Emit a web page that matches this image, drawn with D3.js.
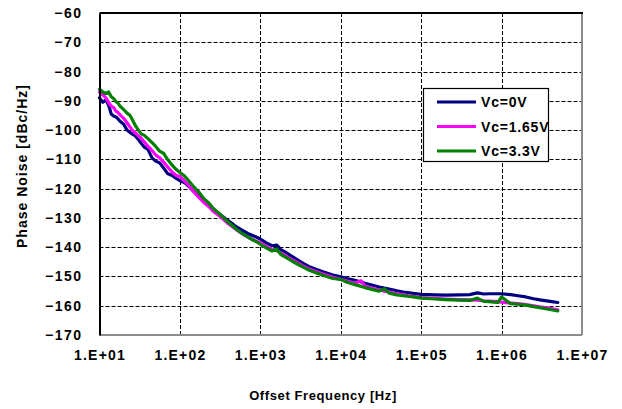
<!DOCTYPE html>
<html>
<head>
<meta charset="utf-8">
<script src="https://cdn.jsdelivr.net/npm/d3@7"></script>
<style>
  html, body { margin: 0; padding: 0; background: #fff; }
  svg text { font-family: "Liberation Sans", Arial, sans-serif; font-weight: bold; fill: #000; }
</style>
</head>
<body>
<svg id="chart" width="622" height="409"></svg>
<script>
// Offset frequencies (Hz) shared by all three traces
const freq = [
  10, 11, 12, 13, 14, 15, 16, 17, 18, 20, 22, 24, 26, 28, 30, 33, 36, 40, 45, 50,
  56, 63, 70, 80, 90, 100, 115, 130, 150, 170, 200, 230, 260, 300, 350, 400, 450, 500,
  600, 700, 800, 900, 1000, 1200, 1400, 1600, 1800, 2000, 2500, 3000, 3500, 4000,
  5000, 6000, 7000, 8000, 1e4, 1.2e4, 1.5e4, 1.8e4, 2e4, 2.5e4, 3e4, 3.5e4, 4e4,
  5e4, 6e4, 8e4, 1e5, 1.5e5, 2e5, 3e5, 4e5, 5e5, 6e5, 7e5, 8e5, 9e5, 1e6, 1.3e6,
  1.6e6, 2e6, 2.5e6, 3e6, 4e6, 5e6
];

// Phase noise (dBc/Hz) at each offset frequency
const vc0 = [
  -89.0, -90.5, -89.7, -91.5, -94.5, -95.2, -95.5, -96.2, -97.0, -98.0, -100.0, -100.8, -101.5, -102.0, -103.0, -104.5, -105.8, -106.6, -109.5, -110.6,
  -111.2, -113.0, -114.8, -115.5, -116.5, -117.3, -118.0, -119.3, -121.0, -122.5, -124.2, -125.7, -127.0, -128.3, -129.8, -131.0, -132.0, -133.0,
  -134.3, -135.3, -136.0, -136.6, -137.2, -138.6, -139.5, -139.3, -140.8, -141.5, -143.2, -144.6, -145.7, -146.6,
  -147.6, -148.4, -149.0, -149.5, -150.1, -150.7, -151.3, -151.9, -152.3, -153.0, -153.6, -154.0, -154.3,
  -154.9, -155.3, -155.8, -156.1, -156.3, -156.4, -156.3, -156.2, -155.6, -156.0, -155.9, -155.9, -155.9, -155.9, -156.2,
  -156.6, -157.0, -157.6, -158.0, -158.5, -158.9
];
const vc165 = [
  -87.0, -88.0, -89.0, -90.5, -91.8, -92.3, -93.5, -94.0, -94.8, -96.0, -97.5, -99.0, -100.2, -101.0, -101.8, -102.8, -104.0, -105.5, -107.0, -108.5,
  -109.5, -111.0, -112.5, -114.3, -115.5, -115.8, -117.5, -119.0, -121.2, -122.8, -124.8, -126.2, -127.8, -129.0, -130.6, -132.0, -133.0, -134.0,
  -135.5, -136.6, -137.4, -138.0, -138.5, -139.8, -140.8, -141.2, -142.0, -142.8, -144.3, -145.5, -146.6, -147.4,
  -148.4, -149.2, -149.8, -150.3, -151.0, -151.6, -152.3, -151.5, -153.3, -154.1, -154.6, -155.0, -155.3,
  -155.9, -156.3, -156.8, -157.2, -157.5, -157.7, -157.9, -158.0, -158.1, -158.3, -158.4, -158.5, -158.6, -158.8, -159.1,
  -159.3, -159.6, -160.0, -160.4, -160.9, -161.4
];
const vc33 = [
  -86.0, -87.0, -87.5, -87.0, -88.6, -89.2, -90.3, -90.8, -91.8, -93.0, -94.2, -95.0, -96.8, -98.5, -99.8, -101.3, -101.8, -102.9, -104.3, -105.6,
  -107.2, -108.0, -110.0, -112.0, -113.5, -114.5, -115.8, -117.5, -119.5, -121.0, -123.5, -125.0, -126.8, -128.2, -130.0, -131.5, -132.7, -133.8,
  -135.4, -136.5, -137.5, -138.2, -139.0, -140.3, -141.3, -140.6, -142.5, -143.2, -144.8, -146.0, -147.0, -147.8,
  -148.8, -149.6, -150.2, -150.7, -151.0, -152.0, -152.8, -153.4, -153.8, -154.5, -155.0, -154.2, -155.7,
  -156.3, -156.6, -157.0, -157.4, -157.7, -157.9, -158.1, -158.2, -157.4, -158.5, -158.6, -158.8, -158.9, -157.0, -159.3,
  -159.5, -159.8, -160.3, -160.7, -161.3, -161.8
];

const seriesNames = ["Vc=0V", "Vc=1.65V", "Vc=3.3V"];
const seriesColors = ["#000080", "#ff00ff", "#008000"];
const seriesValues = [vc0, vc165, vc33];

const xTickValues = [1e1, 1e2, 1e3, 1e4, 1e5, 1e6, 1e7];
const xTickLabels = ["1.E+01", "1.E+02", "1.E+03", "1.E+04", "1.E+05", "1.E+06", "1.E+07"];
const yTickValues = [-60, -70, -80, -90, -100, -110, -120, -130, -140, -150, -160, -170];

const xTitle = "Offset Frequency [Hz]";
const yTitle = "Phase Noise [dBc/Hz]";

// ---- layout ----
const plot = { left: 99.5, right: 582, top: 13, bottom: 335 };
const svg = d3.select("#chart");

const x = d3.scaleLog().domain([1e1, 1e7]).range([plot.left, plot.right]);
const y = d3.scaleLinear().domain([-170, -60]).range([plot.bottom, plot.top]);

// grid lines
const grid = svg.append("g").attr("stroke", "#000").attr("stroke-width", 1)
  .attr("stroke-dasharray", "4,2").attr("fill", "none");
grid.selectAll("line.h").data(yTickValues.filter(v => v > -170 && v < -60)).join("line")
  .attr("x1", plot.left).attr("x2", plot.right)
  .attr("y1", d => Math.round(y(d)) + 0.5).attr("y2", d => Math.round(y(d)) + 0.5);
grid.selectAll("line.v").data(xTickValues.filter(v => v > 1e1 && v < 1e7)).join("line")
  .attr("y1", plot.top).attr("y2", plot.bottom)
  .attr("x1", d => Math.round(x(d)) + 0.5).attr("x2", d => Math.round(x(d)) + 0.5);

// plot frame: grey right / bottom, black left / top
svg.append("line").attr("x1", plot.right).attr("x2", plot.right).attr("y1", plot.top).attr("y2", plot.bottom)
  .attr("stroke", "#8c8c8c").attr("stroke-width", 2);
svg.append("line").attr("x1", plot.left).attr("x2", plot.right).attr("y1", plot.bottom).attr("y2", plot.bottom)
  .attr("stroke", "#8c8c8c").attr("stroke-width", 2);
svg.append("line").attr("x1", plot.left).attr("x2", plot.right + 1).attr("y1", plot.top).attr("y2", plot.top)
  .attr("stroke", "#000").attr("stroke-width", 2);

// traces
const line = d3.line().x(d => x(d[0])).y(d => y(d[1]));
const traces = svg.append("g");
seriesValues.forEach((vals, i) => {
  traces.append("path")
    .datum(freq.map((f, k) => [f, vals[k]]))
    .attr("d", line)
    .attr("fill", "none")
    .attr("stroke", seriesColors[i])
    .attr("stroke-width", 3.2)
    .attr("stroke-linejoin", "round")
    .attr("stroke-linecap", "round");
});

// y axis
const yAxis = d3.axisLeft(y).tickValues(yTickValues).tickSize(0).tickPadding(17);
const gy = svg.append("g").attr("transform", `translate(${plot.left},0)`).call(yAxis);
gy.select(".domain").attr("stroke", "#000").attr("stroke-width", 2);
gy.selectAll("text").style("font-size", "14px").style("letter-spacing", "1.5px");

// x axis
const xAxis = d3.axisBottom(x).tickValues(xTickValues)
  .tickFormat((d, i) => xTickLabels[i]).tickSize(0).tickPadding(15);
const gx = svg.append("g").attr("transform", `translate(0,${plot.bottom})`).call(xAxis);
gx.select(".domain").remove();
gx.selectAll("text").style("font-size", "14px").style("letter-spacing", "1.2px");

// axis titles
svg.append("text").attr("x", 323).attr("y", 400).attr("text-anchor", "middle")
  .style("font-size", "13px").style("letter-spacing", "0.6px").text(xTitle);
svg.append("text").attr("transform", "translate(27,166) rotate(-90)").attr("text-anchor", "middle")
  .style("font-size", "14px").style("letter-spacing", "1px").text(yTitle);

// legend
const lg = svg.append("g");
lg.append("rect").attr("x", 423.5).attr("y", 88.5).attr("width", 125).attr("height", 73)
  .attr("fill", "#fff").attr("stroke", "#000").attr("stroke-width", 1.2);
seriesNames.forEach((name, i) => {
  const cy = 102 + i * 24.5;
  lg.append("line").attr("x1", 437).attr("x2", 476).attr("y1", cy).attr("y2", cy)
    .attr("stroke", seriesColors[i]).attr("stroke-width", 3);
  lg.append("text").attr("x", 481).attr("y", cy + 5)
    .style("font-size", "14px").style("letter-spacing", "0.8px").text(name);
});
</script>
</body>
</html>
